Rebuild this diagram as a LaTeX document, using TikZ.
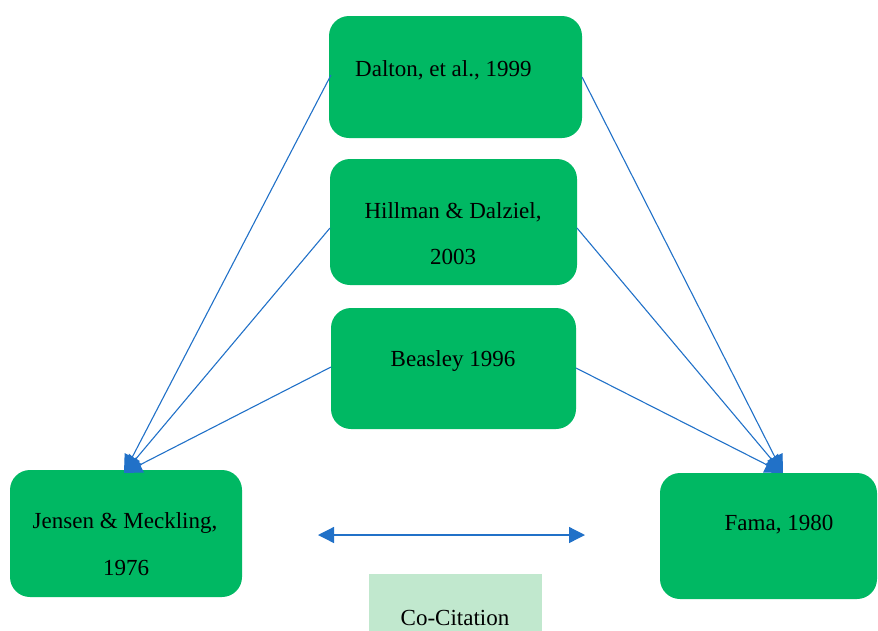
\documentclass[tikz,border=0pt]{standalone}
\usepackage{fontspec}
\setmainfont{Liberation Serif}
\usetikzlibrary{arrows.meta}
\definecolor{boxgreen}{RGB}{0,184,99}
\definecolor{lightgreen}{RGB}{193,232,206}
\definecolor{arrowblue}{RGB}{33,113,200}
\begin{document}
\begin{tikzpicture}[x=1pt,y=-1pt,
  gbox/.style={fill=boxgreen, draw=none, rounded corners=20pt, inner sep=0pt},
  lbl/.style={font=\fontsize{23}{23}\selectfont, inner sep=0pt, anchor=base},
  link/.style={draw=arrowblue, line width=1.1pt, -{Triangle[length=18pt,width=17pt]}},
  both/.style={draw=arrowblue, line width=1.3pt, {Triangle[length=16pt,width=16pt]}-{Triangle[length=16pt,width=16pt]}},
]
\useasboundingbox (0,0) rectangle (878,630);
% boxes
\node[gbox, minimum width=253pt, minimum height=122pt] (dalton) at (455.5,77) {};
\node[gbox, minimum width=247pt, minimum height=126pt] (hillman) at (453.5,222) {};
\node[gbox, minimum width=245pt, minimum height=121pt] (beasley) at (453.5,368.5) {};
\node[gbox, minimum width=232pt, minimum height=127pt] (jensen) at (126,533.5) {};
\node[gbox, minimum width=217pt, minimum height=126pt] (fama) at (768.5,536) {};
\node[fill=lightgreen, inner sep=0pt, minimum width=173pt, minimum height=57pt] (cocit) at (455.5,602.5) {};
% texts
\node[lbl, anchor=base west] (tdalton) at (355,76) {Dalton, et al., 1999};
\node[lbl] (thill1) at (453,218) {Hillman \& Dalziel,};
\node[lbl] (thill2) at (453,264) {2003};
\node[lbl] (tbeas) at (453,366) {Beasley 1996};
\node[lbl] (tjen1) at (125,528) {Jensen \& Meckling,};
\node[lbl] (tjen2) at (126,575) {1976};
\node[lbl] (tfama) at (779,530) {Fama, 1980};
\node[lbl] (tcocit) at (455,625) {Co-Citation};
% arrow end coordinates
\coordinate (jtop) at (124,473);
\coordinate (ftop) at (783,473);
\coordinate (dl) at (331,75);
\coordinate (dr) at (582,77);
\coordinate (hl) at (330,228);
\coordinate (hr) at (577,228);
\coordinate (bl) at (331,367);
\coordinate (br) at (576,368);
\draw[link] (dl) -- (jtop);
\draw[link] (hl) -- (jtop);
\draw[link] (bl) -- (jtop);
\draw[link] (dr) -- (ftop);
\draw[link] (hr) -- (ftop);
\draw[link] (br) -- (ftop);
% co-citation double arrow
\coordinate (ca) at (318,535);
\coordinate (cb) at (585,535);
\draw[both] (ca) -- (cb);
\end{tikzpicture}
\end{document}
